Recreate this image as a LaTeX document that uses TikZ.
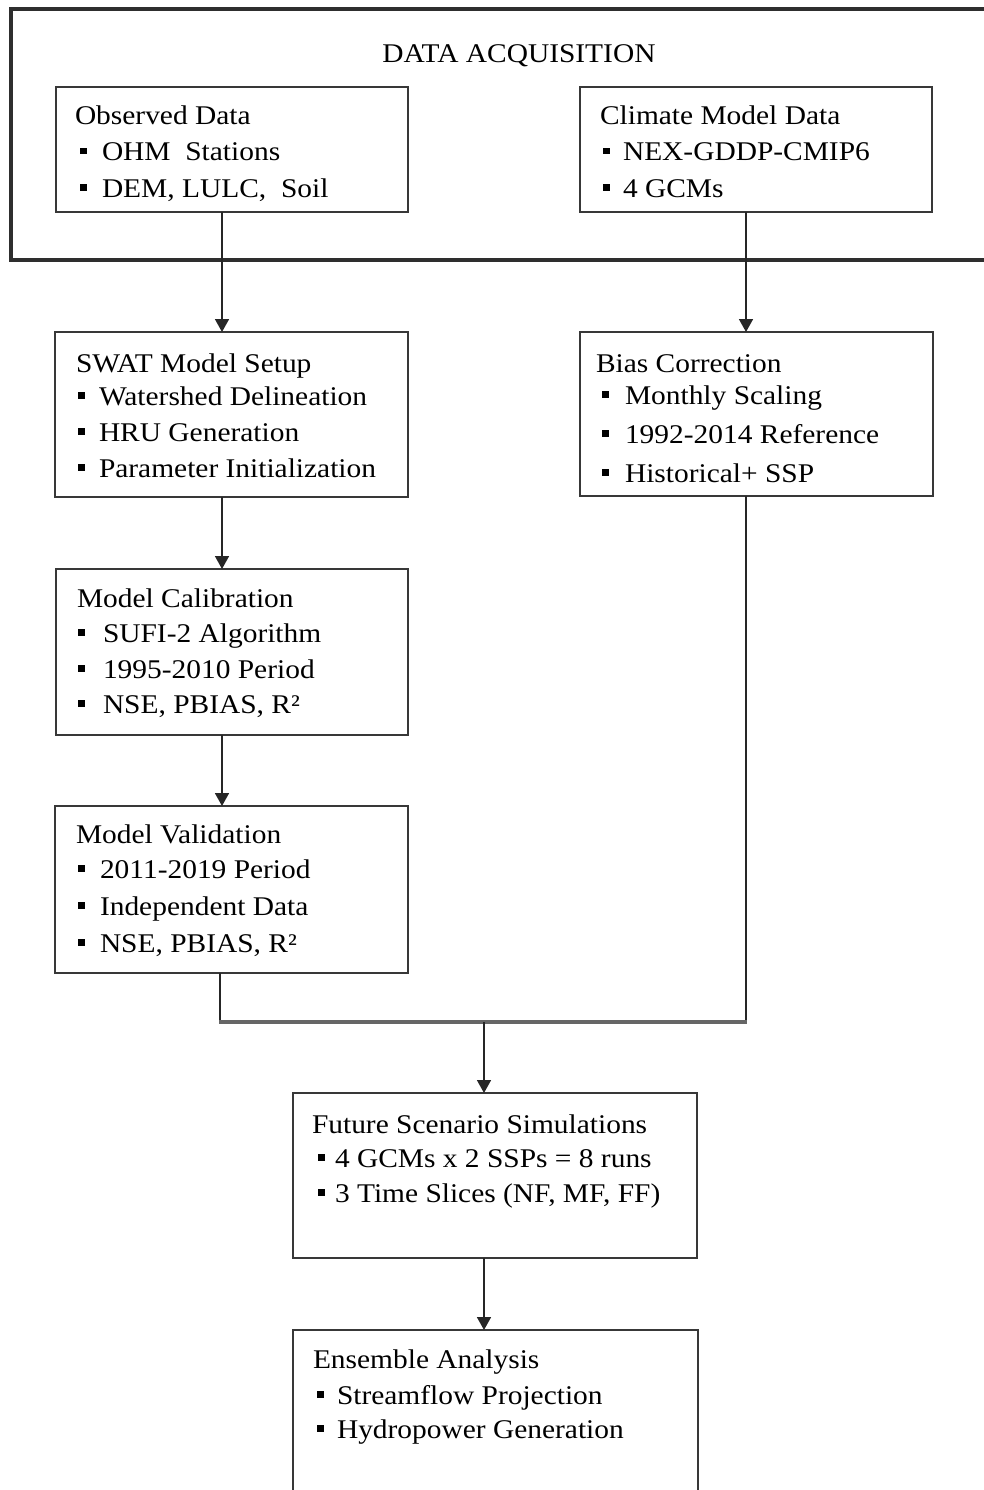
\documentclass[tikz,border=0pt]{standalone}
\usepackage{fontspec}
\setmainfont{Liberation Serif}[FakeStretch=1.09]
\usetikzlibrary{arrows.meta,calc}
\newcommand\bl[2]{\makebox[#1pt][l]{\hspace{1pt}\raisebox{6.5pt}{\rule{6.5pt}{6.5pt}}}#2}
\begin{document}
\begin{tikzpicture}[x=1pt,y=-1pt,
  box/.style={draw=black!78, line width=2.8pt, rectangle, inner sep=0pt, outer sep=0pt},
  outerbox/.style={draw=black!82, line width=3.2pt, rectangle, inner sep=0pt, outer sep=0pt},
  txt/.style={anchor=base west, inner sep=0pt, outer sep=0pt, font=\fontsize{27}{32}\selectfont, text=black},
  conn/.style={draw=black!85, line width=1.7pt},
  merge/.style={draw=black!60, line width=4pt},
  arr/.style={conn, -{Triangle[length=13pt,width=14pt]}},
]
\useasboundingbox (0,0) rectangle (984,1490);
\clip (0,0) rectangle (984,1490);

% outer acquisition frame
\node[outerbox, minimum width=989pt, minimum height=251pt] (acq) at (505.5,134.5) {};
\node[txt, anchor=base] (acqt) at (519,63) {DATA ACQUISITION};

% boxes
\node[box, minimum width=352pt, minimum height=125pt] (obs) at (232,149.5) {};
\node[box, minimum width=352pt, minimum height=125pt] (clim) at (756,149.5) {};
\node[box, minimum width=353pt, minimum height=165pt] (swat) at (231.5,414.5) {};
\node[box, minimum width=353pt, minimum height=164pt] (bias) at (756.5,414) {};
\node[box, minimum width=352pt, minimum height=166pt] (cal) at (232,652) {};
\node[box, minimum width=353pt, minimum height=167pt] (val) at (231.5,889.5) {};
\node[box, minimum width=404pt, minimum height=165pt] (fut) at (495,1175.5) {};
\node[box, minimum width=405pt, minimum height=180pt] (ens) at (495.5,1420) {};

% texts
\node[txt] (obs0) at (75,125) {Observed Data};
\node[txt] (obs1) at (79,161) {\bl{23}{OHM\ \ Stations}};
\node[txt] (obs2) at (79,197) {\bl{23}{DEM, LULC,\ \ Soil}};

\node[txt] (clim0) at (600,125) {Climate Model Data};
\node[txt] (clim1) at (602,161) {\bl{21}{NEX-GDDP-CMIP6}};
\node[txt] (clim2) at (602,197) {\bl{21}{4 GCMs}};

\node[txt] (swat0) at (76,372) {SWAT Model Setup};
\node[txt] (swat1) at (77,405) {\bl{22}{Watershed Delineation}};
\node[txt] (swat2) at (77,441) {\bl{22}{HRU Generation}};
\node[txt] (swat3) at (77,477) {\bl{22}{Parameter Initialization}};

\node[txt] (bias0) at (596,372) {Bias Correction};
\node[txt] (bias1) at (601,404) {\bl{24}{Monthly Scaling}};
\node[txt] (bias2) at (601,443) {\bl{24}{1992-2014 Reference}};
\node[txt] (bias3) at (601,482) {\bl{24}{Historical+ SSP}};

\node[txt] (cal0) at (77,607) {Model Calibration};
\node[txt] (cal1) at (77,642) {\bl{26}{SUFI-2 Algorithm}};
\node[txt] (cal2) at (77,678) {\bl{26}{1995-2010 Period}};
\node[txt] (cal3) at (77,713) {\bl{26}{NSE, PBIAS, R²}};

\node[txt] (val0) at (76,843) {Model Validation};
\node[txt] (val1) at (77,878) {\bl{23}{2011-2019 Period}};
\node[txt] (val2) at (77,915) {\bl{23}{Independent Data}};
\node[txt] (val3) at (77,952) {\bl{23}{NSE, PBIAS, R²}};

\node[txt] (fut0) at (312,1133) {Future Scenario Simulations};
\node[txt] (fut1) at (317,1167) {\bl{18}{4 GCMs x 2 SSPs = 8 runs}};
\node[txt] (fut2) at (317,1202) {\bl{18}{3 Time Slices (NF, MF, FF)}};

\node[txt] (ens0) at (313,1368) {Ensemble Analysis};
\node[txt] (ens1) at (316,1404) {\bl{21}{Streamflow Projection}};
\node[txt] (ens2) at (316,1438) {\bl{21}{Hydropower Generation}};

% connector coordinates
\coordinate (lx) at (222,0);
\coordinate (rx) at (746,0);
\coordinate (ml) at (220,1022);
\coordinate (mr) at (746,1022);
\coordinate (mm) at (484,1022);

% connectors
\draw[arr] (obs.south -| lx) -- (swat.north -| lx);
\draw[arr] (clim.south -| rx) -- (bias.north -| rx);
\draw[arr] (swat.south -| lx) -- (cal.north -| lx);
\draw[arr] (cal.south -| lx) -- (val.north -| lx);
\draw[conn] (val.south -| ml) -- (ml);
\draw[conn] (bias.south -| mr) -- (mr);
\draw[merge] ([xshift=-1pt]ml) -- ([xshift=1pt]mr);
\draw[arr] (mm) -- (fut.north -| mm);
\draw[arr] (fut.south -| mm) -- (ens.north -| mm);
\end{tikzpicture}
\end{document}
